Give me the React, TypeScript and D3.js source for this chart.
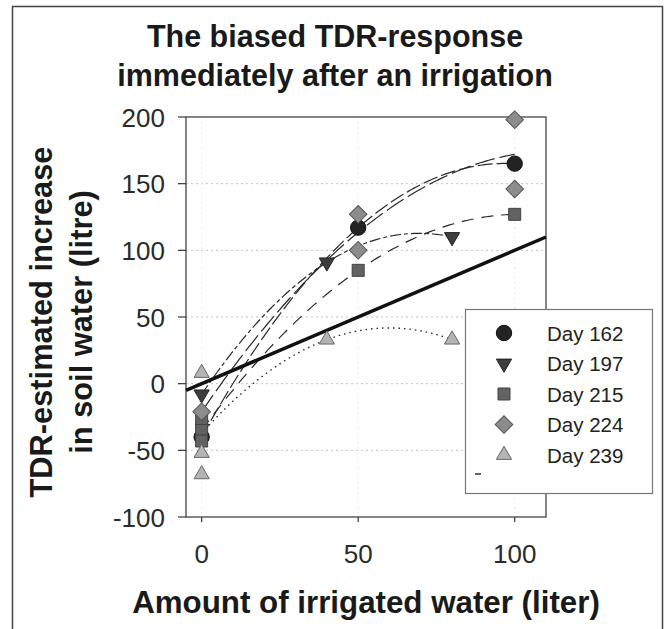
import React from 'react'
import * as d3 from 'd3'

const W = 670
const H = 629

// x = amount of irrigated water (liter), y = TDR-estimated increase (litre)
const days = ['Day 162', 'Day 197', 'Day 215', 'Day 224', 'Day 239']

const day162 = [[0, -40], [50, 117], [100, 165]]
const day197 = [[0, -8], [40, 91], [80, 110]]
const day215 = [[0, -27], [0, -35], [0, -43], [50, 85], [100, 127]]
const day224 = [[0, -21], [50, 127], [50, 100], [100, 198], [100, 146]]
const day239 = [[0, 8], [0, -52], [0, -68], [40, 33], [80, 33]]

const seriesData = [day162, day197, day215, day224, day239]

const xTicks = [0, 50, 100]
const yTicks = [-100, -50, 0, 50, 100, 150, 200]
const yGrid = [-50, 0, 50, 100, 150]

const fills = ['#232323', '#3d3d3d', '#626262', '#8c8c8c', '#b4b4b4']
const strokes = ['#111', '#222', '#404040', '#555', '#666']
const dashes = ['15,4', '11,3,4,3', '12,8', '20,5', '1.5,4']

const margin = { top: 117, right: W - 546, bottom: H - 517, left: 186 }

// least squares quadratic fit
function quadFit(pts) {
    let s = [0, 0, 0, 0, 0], t = [0, 0, 0]
    pts.forEach(([x, y]) => {
        for (let k = 0; k < 5; k++) s[k] += Math.pow(x, k)
        for (let k = 0; k < 3; k++) t[k] += y * Math.pow(x, k)
    })
    const A = [[s[0], s[1], s[2]], [s[1], s[2], s[3]], [s[2], s[3], s[4]]]
    const det = m => m[0][0] * (m[1][1] * m[2][2] - m[1][2] * m[2][1])
        - m[0][1] * (m[1][0] * m[2][2] - m[1][2] * m[2][0])
        + m[0][2] * (m[1][0] * m[2][1] - m[1][1] * m[2][0])
    const D = det(A)
    const c = [0, 1, 2].map(j => {
        const M = A.map((row, i) => row.map((v, k) => (k === j ? t[i] : v)))
        return det(M) / D
    })
    return x => c[0] + c[1] * x + c[2] * x * x
}

const symbolFor = i => {
    if (i === 0) return { type: d3.symbolCircle, size: 185, rot: 0 }
    if (i === 1) return { type: d3.symbolTriangle, size: 100, rot: 180 }
    if (i === 2) return { type: d3.symbolSquare, size: 144, rot: 0 }
    if (i === 3) return { type: d3.symbolSquare, size: 155, rot: 45 }
    return { type: d3.symbolTriangle, size: 100, rot: 0 }
}

const Marker = ({ i, cx, cy }) => {
    const s = symbolFor(i)
    const d = d3.symbol().type(s.type).size(s.size)()
    return (
        <path d={d} transform={`translate(${cx},${cy}) rotate(${s.rot})`}
            fill={fills[i]} stroke={strokes[i]} strokeWidth={1} />
    )
}

export default function App() {
    const x = d3.scaleLinear().domain([-5, 110]).range([margin.left, W - margin.right])
    const y = d3.scaleLinear().domain([-100, 200]).range([H - margin.bottom, margin.top])

    const line = d3.line().x(d => x(d[0])).y(d => y(d[1]))

    const curves = seriesData.map(pts => {
        const f = quadFit(pts)
        const xmax = d3.max(pts, p => p[0])
        const xs = d3.range(0, xmax + 0.01, 1)
        return line(xs.map(v => [v, f(v)]))
    })

    const font = 'Arial, "Liberation Sans", Helvetica, sans-serif'
    const lx = 465, ly = 309, lw = 187, lh = 184

    return (
        <svg width={W} height={H} style={{ position: 'absolute', left: 0, top: 0, background: '#fff' }}
            fontFamily={font}>
            <rect x={12.5} y={6.5} width={650} height={640} fill="#fff" stroke="#444" strokeWidth={1.5} />

            <text x={335} y={47} textAnchor="middle" fontSize={30.5} fontWeight="bold" fill="#1a1a1a">The biased TDR-response</text>
            <text x={335} y={86} textAnchor="middle" fontSize={30.5} fontWeight="bold" fill="#1a1a1a">immediately after an irrigation</text>

            {/* grid */}
            <g stroke="#c4c4c4" strokeWidth={1} strokeDasharray="2,3">
                {yGrid.map(v => (
                    <line key={'g' + v} x1={x(-5)} x2={x(110)} y1={y(v)} y2={y(v)} />
                ))}
                {xTicks.map(v => (
                    <line key={'v' + v} x1={x(v)} x2={x(v)} y1={y(200)} y2={y(-100)} stroke="#ececec" />
                ))}
            </g>

            {/* frame */}
            <rect x={x(-5)} y={y(200)} width={x(110) - x(-5)} height={y(-100) - y(200)}
                fill="none" stroke="#444" strokeWidth={1.3} />

            {/* y ticks */}
            {yTicks.map(v => (
                <g key={'y' + v}>
                    <line x1={x(-5) - 8} x2={x(-5)} y1={y(v)} y2={y(v)} stroke="#444" strokeWidth={1.3} />
                    <text x={165} y={y(v) + 9.5} textAnchor="end" fontSize={26} fill="#2a2a2a">{v}</text>
                </g>
            ))}
            {/* x ticks */}
            {xTicks.map(v => (
                <g key={'x' + v}>
                    <line x1={x(v)} x2={x(v)} y1={y(-100)} y2={y(-100) + 5} stroke="#444" strokeWidth={1.3} />
                    <text x={x(v)} y={563} textAnchor="middle" fontSize={26} fill="#2a2a2a">{v}</text>
                </g>
            ))}

            <text x={366} y={613} textAnchor="middle" fontSize={31.3} fontWeight="bold" fill="#1a1a1a">Amount of irrigated water (liter)</text>
            <text transform={`translate(52,322) rotate(-90)`} textAnchor="middle" fontSize={30.8} fontWeight="bold" fill="#1a1a1a">TDR-estimated increase</text>
            <text transform={`translate(92,322) rotate(-90)`} textAnchor="middle" fontSize={30.8} fontWeight="bold" fill="#1a1a1a">in soil water (litre)</text>

            {/* fitted curves */}
            {curves.map((d, i) => (
                <path key={'c' + i} d={d} fill="none" stroke="#2a2a2a" strokeWidth={i === 4 ? 1.4 : 1.2}
                    strokeDasharray={dashes[i]} />
            ))}

            {/* 1:1 line */}
            <line x1={x(-5)} y1={y(-5)} x2={x(110)} y2={y(110)} stroke="#111" strokeWidth={3.5} />

            {/* points */}
            {seriesData.map((pts, i) => pts.map((p, j) => (
                <Marker key={i + '-' + j} i={i} cx={x(p[0])} cy={y(p[1])} />
            )))}

            {/* legend */}
            <rect x={lx + 0.5} y={ly + 0.5} width={lw} height={lh} fill="#fff" stroke="#777" strokeWidth={1.2} />
            {days.map((dname, i) => (
                <g key={dname}>
                    <Marker i={i} cx={504} cy={333 + i * 30.5} />
                    <text x={547} y={333 + i * 30.5 + 7.5} fontSize={20.5} fill="#222">{dname}</text>
                </g>
            ))}
            <line x1={475} x2={481} y1={474} y2={474} stroke="#333" strokeWidth={1.5} />
        </svg>
    )
}
